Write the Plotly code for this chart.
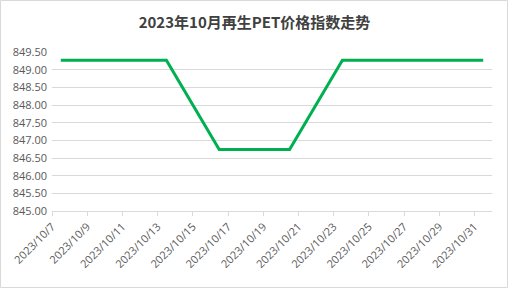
import plotly.graph_objects as go

dates = ["2023-10-07", "2023-10-08", "2023-10-09", "2023-10-10", "2023-10-11", "2023-10-12", "2023-10-13",
         "2023-10-16", "2023-10-17", "2023-10-18", "2023-10-19", "2023-10-20",
         "2023-10-23", "2023-10-24", "2023-10-25", "2023-10-26", "2023-10-27",
         "2023-10-30", "2023-10-31"]
values = [849.27, 849.27, 849.27, 849.27, 849.27, 849.27, 849.27,
          846.74, 846.74, 846.74, 846.74, 846.74,
          849.27, 849.27, 849.27, 849.27, 849.27,
          849.27, 849.27]
tick_dates = ["2023-10-07", "2023-10-09", "2023-10-11", "2023-10-13", "2023-10-15", "2023-10-17",
              "2023-10-19", "2023-10-21", "2023-10-23", "2023-10-25", "2023-10-27", "2023-10-29", "2023-10-31"]
tick_labels = ["2023/10/7", "2023/10/9", "2023/10/11", "2023/10/13", "2023/10/15", "2023/10/17",
               "2023/10/19", "2023/10/21", "2023/10/23", "2023/10/25", "2023/10/27", "2023/10/29", "2023/10/31"]
title_text = "2023年10月再生PET价格指数走势"

W, H = 509, 289
L, R, T, B = 52, 17, 52, 78

fig = go.Figure(go.Scatter(
    x=[d + " 12:00" for d in dates], y=values, mode="lines",
    line=dict(color="#00B050", width=3), hoverinfo="skip"))

fig.update_layout(
    width=W, height=H, margin=dict(l=L, r=R, t=T, b=B),
    paper_bgcolor="white", plot_bgcolor="white", showlegend=False,
    title=dict(text="<b>" + title_text + "</b>", x=0.5, xanchor="center", y=1 - 23 / H, yanchor="middle",
               font=dict(family="Noto Sans CJK SC", size=15, color="#404040")),
    font=dict(family="Open Sans, Noto Sans CJK SC", color="#595959"),
)
fig.update_xaxes(
    type="date", range=["2023-10-07 00:00", "2023-11-01 00:00"],
    tickvals=[d + " 00:00" for d in tick_dates], ticktext=tick_labels, tickangle=-45,
    showgrid=False, showline=True, linecolor="#d9d9d9", linewidth=1,
    ticks="outside", ticklen=4, tickcolor="#d9d9d9", tickfont=dict(size=11, color="#595959"),
    zeroline=False)
fig.update_yaxes(
    range=[845, 849.5], dtick=0.5, tickformat=".2f", showgrid=True, gridcolor="#d9d9d9",
    gridwidth=1, zeroline=False, showline=False, tickfont=dict(size=11, color="#595959"),
    ticklabelstandoff=4)

pw, ph = W - L - R, H - T - B
fig.add_shape(type="rect", xref="paper", yref="paper",
              x0=(0.5 - L) / pw, x1=(W - 1.5 - L) / pw,
              y0=(H - (H - 1.5) - B) / ph, y1=(H - 0.5 - B) / ph,
              line=dict(color="#d9d9d9", width=1), layer="below")

fig.write_html("out.html")
